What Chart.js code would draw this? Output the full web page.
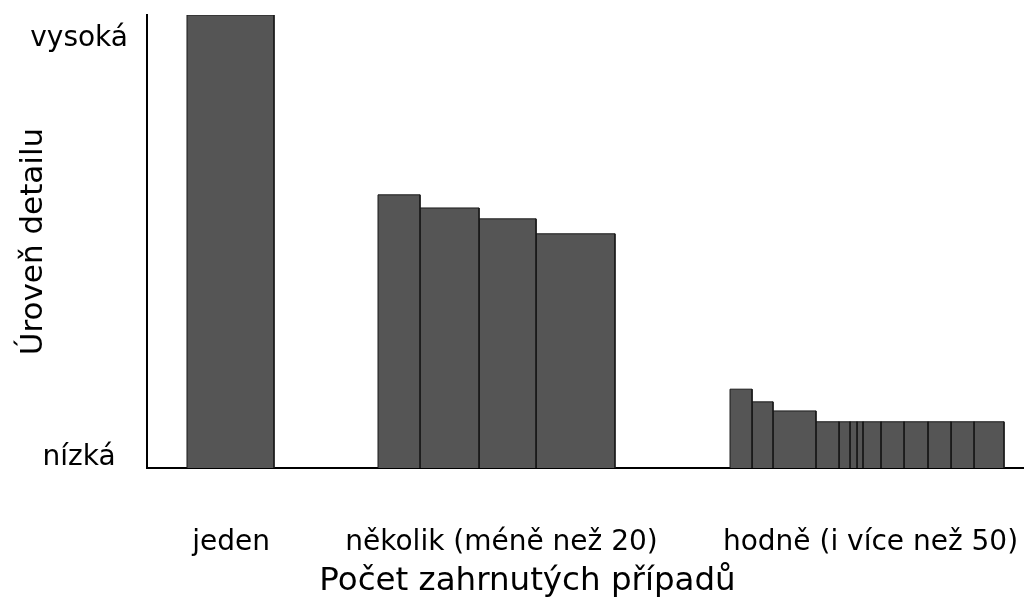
<!DOCTYPE html>
<html lang="cs">
<head>
<meta charset="UTF-8">
<title>Úroveň detailu</title>
<style>
    body { margin: 0; background: #fff; }
    .wrap { width: 1024px; height: 601px; position: relative; }
</style>
</head>
<body>
<div class="wrap"><canvas id="chart"></canvas></div>
<script src="https://cdn.jsdelivr.net/npm/chart.js"></script>
<script>
    // bar edges and heights, x on a 0-100 scale, y on a 0-100 scale
    const barLeft   = [4.56, 26.34, 31.13, 37.86, 44.36, 66.48, 68.99, 71.38, 76.28, 78.91, 80.16, 80.96, 81.64, 83.69, 86.32, 89.05, 91.68, 94.30];
    const barRight  = [14.48, 31.13, 37.86, 44.36, 53.36, 68.99, 71.38, 76.28, 78.91, 80.16, 80.96, 81.64, 83.69, 86.32, 89.05, 91.68, 94.30, 97.72];
    const barHeight = [100, 60.3, 57.4, 55.0, 51.7, 17.4, 14.6, 12.6, 10.2, 10.2, 10.2, 10.2, 10.2, 10.2, 10.2, 10.2, 10.2, 10.2];

    const xTickValues = [9.58, 40.42, 82.5];
    const xTickLabels = ['jeden', 'několik (méně než 20)', 'hodně (i více než 50)'];
    const yTickValues = [2.3, 94.7];
    const yTickLabels = ['nízká', 'vysoká'];

    Chart.defaults.font.family = '"DejaVu Sans", Verdana, sans-serif';
    Chart.defaults.color = '#000';

    // each bar is a step outline filled down to zero
    const datasets = barHeight.map((h, i) => ({
        data: [
            {x: barLeft[i], y: 0},
            {x: barLeft[i], y: h},
            {x: barRight[i], y: h},
            {x: barRight[i], y: 0}
        ],
        fill: 'origin',
        backgroundColor: '#555555',
        borderColor: '#1a1a1a',
        borderWidth: 1,
        pointRadius: 0,
        tension: 0
    }));

    // labels may hang outside the plot, don't let them shrink it
    const noPad = s => { s.paddingLeft = 0; s.paddingRight = 0; s.paddingTop = 0; s.paddingBottom = 0; };

    new Chart(document.getElementById('chart'), {
        type: 'line',
        data: { datasets: datasets },
        options: {
            responsive: true,
            maintainAspectRatio: false,
            animation: false,
            layout: { padding: { left: 31, top: 15, right: 0, bottom: 0 } },
            plugins: {
                legend: { display: false },
                tooltip: { enabled: false },
                title: {
                    display: true,
                    position: 'bottom',
                    text: 'Počet zahrnutých případů',
                    color: '#000',
                    font: { size: 32.5, weight: 'normal', lineHeight: 1.2 },
                    padding: { top: 0, bottom: 0 }
                }
            },
            scales: {
                x: {
                    type: 'linear',
                    min: 0,
                    max: 100,
                    grid: { display: false },
                    border: { color: '#000', width: 2 },
                    afterBuildTicks: s => { s.ticks = xTickValues.map(v => ({ value: v })); },
                    afterFit: s => { s.height = 94; noPad(s); },
                    ticks: {
                        autoSkip: false,
                        maxRotation: 0,
                        padding: 50,
                        font: { size: 28 },
                        callback: (v, i) => xTickLabels[i]
                    }
                },
                y: {
                    min: 0,
                    max: 100,
                    grid: { display: false },
                    border: { color: '#000', width: 2 },
                    afterBuildTicks: s => { s.ticks = yTickValues.map(v => ({ value: v })); },
                    afterFit: s => { s.width = 116; noPad(s); },
                    ticks: {
                        crossAlign: 'center',
                        padding: 11,
                        font: { size: 28 },
                        callback: (v, i) => yTickLabels[i]
                    },
                    title: {
                        display: true,
                        text: 'Úroveň detailu',
                        font: { size: 31, lineHeight: 0.2 },
                        padding: 0
                    }
                }
            }
        }
    });
</script>
</body>
</html>
